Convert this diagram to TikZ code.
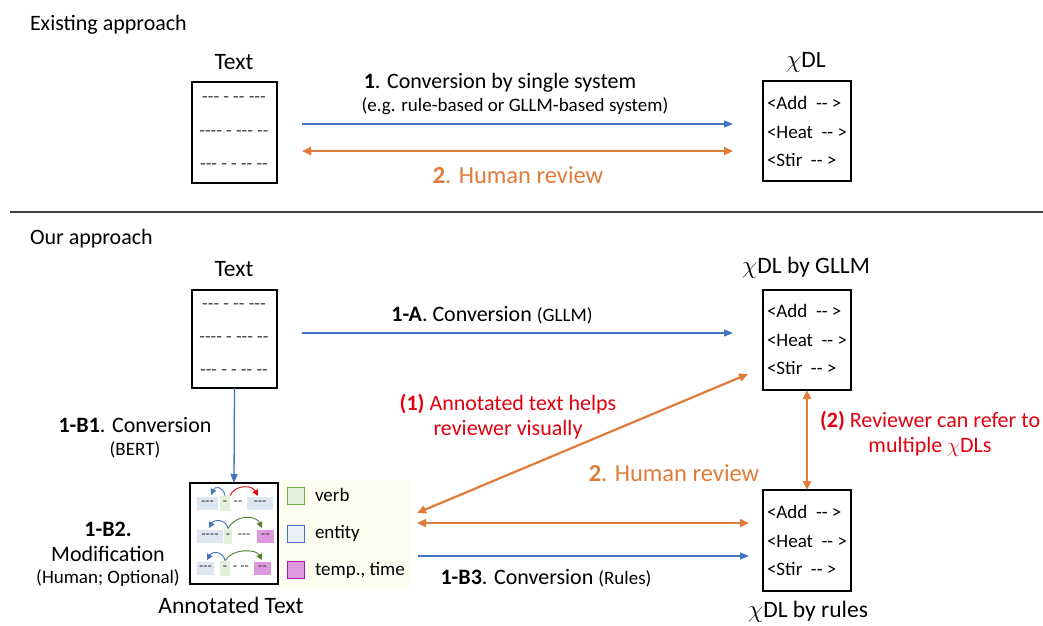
\documentclass[tikz,border=0pt]{standalone}
\usepackage{fontspec}
\setmainfont{Carlito}
\usetikzlibrary{arrows.meta}
\definecolor{cblue}{HTML}{4472C4}
\definecolor{corange}{HTML}{E07B39}
\definecolor{cred}{HTML}{E3000F}
\definecolor{cgreen}{HTML}{507E32}
\definecolor{lblue}{HTML}{DEE6F3}
\definecolor{lgreen}{HTML}{E2EFD9}
\definecolor{lmag}{HTML}{DE98DE}
\definecolor{bgreen}{HTML}{70AD47}
\definecolor{bmag}{HTML}{A31FA3}
\definecolor{lyellow}{HTML}{FDFDF0}
\newcommand{\fs}[1]{\fontsize{#1}{#1}\selectfont}
\begin{document}
\begin{tikzpicture}[x=1pt,y=-1pt,
  every node/.style={inner sep=0pt, outer sep=0pt},
  box/.style={draw, line width=1.3pt, minimum width=86pt, minimum height=100pt, anchor=north west},
  dsh/.style={font=\fs{18.5}, text=black!75},
  xdl/.style={font=\fs{19}, anchor=west},
  lbl/.style={font=\fs{23.5}},
  bluearr/.style={cblue, line width=1.3pt, -{Triangle[length=9pt,width=7pt]}},
  orarr/.style={corange, line width=2.2pt, {Triangle[length=9pt,width=8pt]}-{Triangle[length=9pt,width=8pt]}},
  hl/.style={minimum height=13pt, font=\fs{14}, text=black!80},
  smarr/.style={line width=0.9pt, -{Triangle[length=6pt,width=6pt]}},
  leg/.style={line width=1.2pt, minimum width=17pt, minimum height=17pt},
  legt/.style={font=\fs{19}, anchor=west}
]
\useasboundingbox (0,0) rectangle (1043,625);

% ---------- Existing approach ----------
\node[font=\fs{22}, anchor=west] (existing) at (30,25) {Existing approach};

\node[lbl] (t1lbl) at (234,62) {Text};
\node[box, minimum width=85pt, minimum height=101pt] (t1) at (192,82) {};
\node[dsh] (t1a) at (234,100) {-{}-{}- - -{}- -{}-{}-};
\node[dsh] (t1b) at (234,134) {-{}-{}-{}- - -{}-{}- -{}-};
\node[dsh] (t1c) at (234,167) {-{}-{}- - - -{}- -{}-};

\node[lbl] (x1lbl) at (806,62) {$\chi$DL};
\node[box, minimum width=88pt] (x1) at (763,81) {};
\node[xdl] (x1a) at (767,103) {<Add\ \ -{}-\ >};
\node[xdl] (x1b) at (767,132) {<Heat\ \ -{}-\ >};
\node[xdl] (x1c) at (767,160) {<Stir\ \ -{}-\ >};

\coordinate (e1s) at (302,124); \coordinate (e1e) at (733,124);
\coordinate (e2s) at (302,151); \coordinate (e2e) at (733,151);
\draw[bluearr] (e1s) -- (e1e);
\draw[orarr] (e2s) -- (e2e);
\node[font=\fs{22}] (l1) at (500,83) {\textbf{1}. Conversion by single system};
\node[font=\fs{19}] (l1b) at (515,106) {(e.g. rule-based or GLLM-based system)};
\node[font=\fs{24.5}, text=corange] (l2) at (518,175) {\textbf{2}. Human review};

% separator
\coordinate (sepL) at (10,212); \coordinate (sepR) at (1043,212);
\draw[line width=2pt, black!75] (sepL) -- (sepR);

% ---------- Our approach ----------
\node[font=\fs{22}, anchor=west] (ours) at (30,239) {Our approach};

\node[lbl] (t2lbl) at (234,269) {Text};
\node[box, minimum width=85pt, minimum height=98pt] (t2) at (192,290) {};
\node[dsh] (t2a) at (234,307) {-{}-{}- - -{}- -{}-{}-};
\node[dsh] (t2b) at (234,340) {-{}-{}-{}- - -{}-{}- -{}-};
\node[dsh] (t2c) at (234,373) {-{}-{}- - - -{}- -{}-};

\node[lbl] (x2lbl) at (806,268) {$\chi$DL by GLLM};
\node[box, minimum width=88pt] (x2) at (763,290) {};
\node[xdl] (x2a) at (767,311) {<Add\ \ -{}-\ >};
\node[xdl] (x2b) at (767,340) {<Heat\ \ -{}-\ >};
\node[xdl] (x2c) at (767,368) {<Stir\ \ -{}-\ >};

\node[lbl] (x3lbl) at (808,612) {$\chi$DL by rules};
\node[box, minimum width=88pt, minimum height=101pt] (x3) at (763,490) {};
\node[xdl] (x3a) at (767,512) {<Add\ \ -{}-\ >};
\node[xdl] (x3b) at (767,541) {<Heat\ \ -{}-\ >};
\node[xdl] (x3c) at (767,569) {<Stir\ \ -{}-\ >};

% 1-A
\coordinate (aS) at (302,333); \coordinate (aE) at (733,333);
\draw[bluearr] (aS) -- (aE);
\node[font=\fs{22}] (la) at (492,315) {\textbf{1-A}. Conversion {\fs{19}(GLLM)}};

% annotated text box
\node[fill=lyellow, minimum width=130pt, minimum height=108pt, anchor=north west] (legbg) at (280,480) {};
\node[box, minimum width=88pt, minimum height=101pt] (ann) at (190,483) {};
\draw[bluearr] (t2.south) -- (ann.north);

% row 1
\node[hl, fill=lblue, minimum width=21pt] (r1a) at (207.5,503) {-{}-{}-};
\node[hl, fill=lgreen, minimum width=10pt, minimum height=15pt] (r1b) at (225,503) {-};
\node[hl] (r1c) at (238,503) {-{}-};
\node[hl, fill=lblue, minimum width=26pt] (r1d) at (260,503) {-{}-{}-};
\draw[smarr, cblue] (r1b.north) .. controls (223,486) and (215,486) .. (211,495);
\draw[smarr, cred] (r1b.north east) .. controls (236,484) and (252,485) .. (258,496);
% row 2
\node[hl, fill=lblue, minimum width=26pt] (r2a) at (210,536) {-{}-{}-{}-};
\node[hl, fill=lgreen, minimum width=8pt, minimum height=15pt] (r2b) at (228,536) {-};
\node[hl] (r2c) at (244,536) {-{}-{}-};
\node[hl, fill=lmag, minimum width=17pt] (r2d) at (265.5,536) {-{}-};
\draw[smarr, cblue] (r2b.north) .. controls (226,519) and (214,519) .. (209,528);
\draw[smarr, cgreen] (r2b.north) .. controls (236,514) and (256,515) .. (262,528);
% row 3
\node[hl, fill=lblue, minimum width=17pt] (r3a) at (205.5,568) {-{}-{}-};
\node[hl, fill=lgreen, minimum width=10pt, minimum height=15pt] (r3b) at (225,568) {-};
\node[hl] (r3c) at (241,568) {- -{}-};
\node[hl, fill=lmag, minimum width=17pt] (r3d) at (262.5,568) {-{}-};
\draw[smarr, cblue] (r3b.north) .. controls (223,551) and (212,551) .. (207,560);
\draw[smarr, cgreen] (r3b.north) .. controls (233,548) and (256,549) .. (262,560);

% legend
\node[leg, draw=bgreen, fill=lgreen] (lg1) at (296,496) {};
\node[legt] (lg1t) at (315,495) {verb};
\node[leg, draw=cblue, fill=lblue!60] (lg2) at (296,534) {};
\node[legt] (lg2t) at (315,533) {entity};
\node[leg, draw=bmag, fill=lmag] (lg3) at (296,570) {};
\node[legt] (lg3t) at (315,570) {temp., time};

\node[lbl] (annlbl) at (231,605) {Annotated Text};

% 1-B1
\node[font=\fs{22}] (lb1) at (135,425) {\textbf{1-B1}. Conversion};
\node[font=\fs{19}] (lb1b) at (135,450) {(BERT)};
% 1-B2
\node[font=\fs{22}] (lb2) at (108,529) {\textbf{1-B2.}};
\node[font=\fs{22}] (lb2b) at (108,554) {Modification};
\node[font=\fs{19}] (lb2c) at (108,578) {(Human; Optional)};

% review arrows
\coordinate (dS) at (417,513); \coordinate (dE) at (748,374);
\draw[orarr] (dS) -- (dE);
\coordinate (hS) at (417,523); \coordinate (hE) at (749,523);
\draw[orarr] (hS) -- (hE);
\coordinate (bS) at (418,556); \coordinate (bE) at (749,556);
\draw[bluearr] (bS) -- (bE);
\draw[orarr] (x2.south -| 807,0) -- (x3.north -| 807,0);

\node[font=\fs{22}] (lb3) at (546,578) {\textbf{1-B3}. Conversion {\fs{19}(Rules)}};
\node[font=\fs{24.5}, text=corange] (lhr) at (674,473) {\textbf{2}. Human review};
\node[font=\fontsize{22}{25}\selectfont, text=cred, align=center] (n1) at (508,417) {\textbf{(1)} Annotated text helps\\reviewer visually};
\node[font=\fontsize{22}{25}\selectfont, text=cred, align=center] (n2) at (930,434) {\textbf{(2)} Reviewer can refer to\\multiple $\chi$DLs};
\end{tikzpicture}
\end{document}
